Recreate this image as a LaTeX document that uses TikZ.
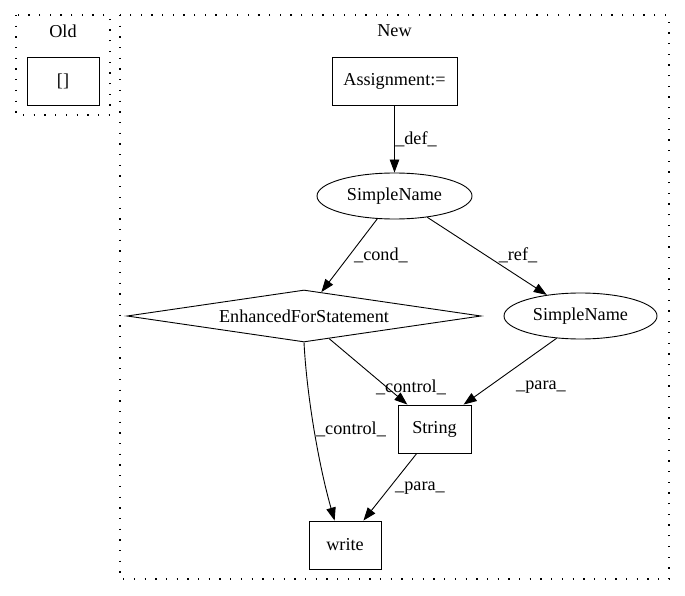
\documentclass[tikz,border=0pt]{standalone}
\usepackage{fontspec}
\setmainfont{Liberation Serif}
\usetikzlibrary{arrows.meta,shapes.geometric,calc}
\begin{document}
\begin{tikzpicture}[x=1pt,y=-1pt,
  every node/.style={font=\fontsize{18.2}{22}\selectfont, inner sep=0pt},
  cluster/.style={draw, line width=1.3pt, dash pattern=on 1.3pt off 9.4pt},
  boxnode/.style={draw, line width=0.9pt, rectangle},
  ellnode/.style={draw, line width=0.9pt, ellipse},
  dianode/.style={draw, line width=0.9pt, diamond, shape aspect=6.8},
  edge/.style={draw, line width=0.9pt, -{Triangle[length=13pt,width=9.5pt]}},
  lbl/.style={}]
\useasboundingbox (0,0) rectangle (685,596);
% clusters
\draw[cluster] (16,15) rectangle (110,115);
\draw[cluster] (120,15) rectangle (669,579);
\node[lbl] (oldlbl) at (63,31) {Old};
\node[lbl] (newlbl) at (394.5,31) {New};
% nodes
\node[boxnode, minimum width=72pt, minimum height=48pt] (old) at (63,81) {[]};
\node[boxnode, minimum width=125pt, minimum height=48pt] (assign) at (394.5,81) {Assignment:=};
\node[ellnode, minimum width=155pt, minimum height=46pt] (sn1) at (394.5,196) {SimpleName};
\node[dianode, minimum width=354pt, minimum height=52pt] (efs) at (304,316) {EnhancedForStatement};
\node[ellnode, minimum width=153pt, minimum height=46pt] (sn2) at (580.5,316) {SimpleName};
\node[boxnode, minimum width=73pt, minimum height=48pt] (string) at (434.5,429) {String};
\node[boxnode, minimum width=72pt, minimum height=48pt] (write) at (345,545) {write};
% edges
\draw[edge] (assign.south) -- (sn1.north);
\draw[edge] (sn1.233) -- (efs.54);
\draw[edge] (sn1.327) -- (sn2.148);
\draw[edge] (efs.318) -- (string.138);
\draw[edge] (sn2.223) -- (string.40);
\draw[edge] (string.234) -- (write.53);
\draw[edge] (efs.south) .. controls (307,400) and (320,470) .. (write.113);
% edge labels
\node[lbl] (l1) at (416,139) {\_def\_};
\node[lbl] (l2) at (381,255) {\_cond\_};
\node[lbl] (l3) at (518,255) {\_ref\_};
\node[lbl] (l4) at (411,387) {\_control\_};
\node[lbl] (l5) at (541,387) {\_para\_};
\node[lbl] (l6) at (351,429) {\_control\_};
\node[lbl] (l7) at (420,488) {\_para\_};
\end{tikzpicture}
\end{document}
